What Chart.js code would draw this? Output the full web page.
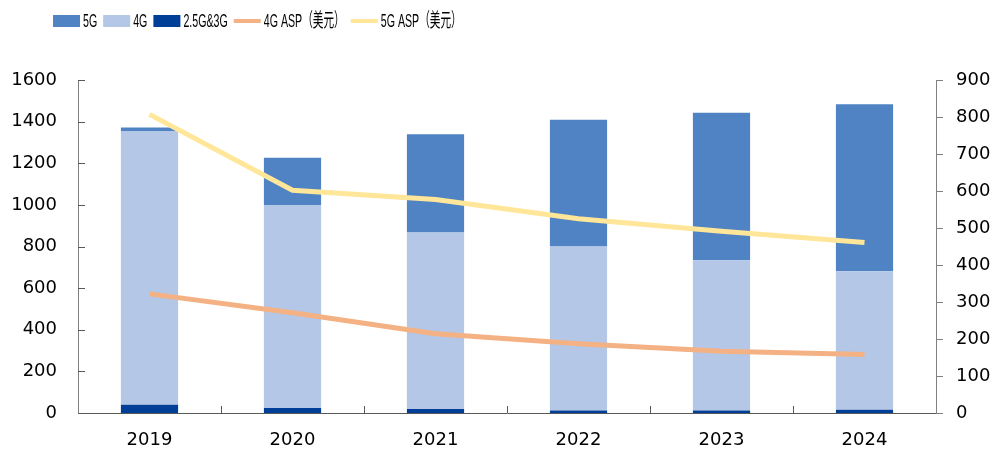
<!DOCTYPE html>
<html lang="zh">
  <head>
    <meta charset="UTF-8" />
    <script src="https://cdn.jsdelivr.net/npm/chart.js"></script>
    <title>5G / 4G</title>
    <style>
      * {
        padding: 0;
        margin: 0;
        box-sizing: border-box;
      }
      body {
        background: #fff;
      }
      .wrap {
        width: 1006px;
        height: 454px;
      }
    </style>
  </head>
  <body>
    <div class="wrap">
      <canvas id="myChart"></canvas>
    </div>
    <script>
      const years = ['2019', '2020', '2021', '2022', '2023', '2024'];
      const g3 = [40, 24, 19, 12, 12, 16];
      const g4 = [1315, 976, 848, 788, 722, 665];
      const g5 = [17, 226, 472, 609, 709, 802];
      const asp4g = [322, 271, 214, 187, 167, 158];
      const asp5g = [807, 602, 577, 525, 491, 461];
      const leftTicks = [0, 200, 400, 600, 800, 1000, 1200, 1400, 1600];
      const rightTicks = [0, 100, 200, 300, 400, 500, 600, 700, 800, 900];

      const fontFamily = "'DejaVu Sans', 'Noto Sans CJK SC', sans-serif";
      const legendOrder = ['5G', '4G', '2.5G&3G', '4G ASP（美元）', '5G ASP（美元）'];

      // tick marks drawn inside the plot (x axis and left axis)
      const innerTicks = {
        id: 'innerTicks',
        afterDraw(chart) {
          const ctx = chart.ctx;
          const x = chart.scales.x;
          const y = chart.scales.y;
          ctx.save();
          ctx.strokeStyle = '#595959';
          ctx.lineWidth = 1;
          ctx.beginPath();
          for (let i = 1; i < years.length; i++) {
            const px = Math.round((x.getPixelForValue(i - 1) + x.getPixelForValue(i)) / 2) + 0.5;
            ctx.moveTo(px, y.bottom);
            ctx.lineTo(px, y.bottom - 7);
          }
          leftTicks.forEach(v => {
            const py = Math.round(y.getPixelForValue(v)) + 0.5;
            ctx.moveTo(x.left, py);
            ctx.lineTo(x.left + 7, py);
          });
          ctx.stroke();
          ctx.restore();
        },
      };

      // legend drawn by hand: narrow text, short gap between key and label
      const topLegend = {
        id: 'topLegend',
        afterDraw(chart) {
          const ctx = chart.ctx;
          const squeeze = 0.56;
          let cx = 53;
          const cy = 21;
          ctx.save();
          ctx.font = "19px 'Liberation Sans', 'Noto Sans CJK SC', sans-serif";
          ctx.textBaseline = 'middle';
          legendOrder.forEach(name => {
            const ds = chart.data.datasets.find(d => d.label === name);
            if (ds.type === 'line') {
              ctx.fillStyle = ds.borderColor;
              ctx.fillRect(cx, cy - 2, 27, 4);
            } else {
              ctx.fillStyle = ds.backgroundColor;
              ctx.fillRect(cx, cy - 6, 27, 12);
            }
            cx += 30;
            ctx.fillStyle = '#000';
            ctx.save();
            ctx.translate(cx, cy);
            ctx.scale(squeeze, 1);
            ctx.fillText(name, 0, 1);
            ctx.restore();
            cx += ctx.measureText(name).width * squeeze + 6;
          });
          ctx.restore();
        },
      };

      const data = {
        labels: years,
        datasets: [
          { type: 'line', label: '4G ASP（美元）', data: asp4g, yAxisID: 'y1', borderColor: '#F4B183', backgroundColor: '#F4B183', borderWidth: 5, pointRadius: 0, order: 0 },
          { type: 'line', label: '5G ASP（美元）', data: asp5g, yAxisID: 'y1', borderColor: '#FFE699', backgroundColor: '#FFE699', borderWidth: 5, pointRadius: 0, order: 0 },
          { type: 'bar', label: '2.5G&3G', data: g3, yAxisID: 'y', backgroundColor: '#003F98', borderWidth: 0, stack: 's', order: 1 },
          { type: 'bar', label: '4G', data: g4, yAxisID: 'y', backgroundColor: '#B4C7E7', borderWidth: 0, stack: 's', order: 1 },
          { type: 'bar', label: '5G', data: g5, yAxisID: 'y', backgroundColor: '#4F83C3', borderWidth: 0, stack: 's', order: 1 },
        ],
      };

      const config = {
        data: data,
        options: {
          responsive: true,
          maintainAspectRatio: false,
          animation: false,
          layout: { padding: { left: 10, right: 15, top: 80, bottom: 0 } },
          datasets: { bar: { barPercentage: 0.4, categoryPercentage: 1 } },
          plugins: {
            tooltip: { enabled: false },
            legend: { display: false },
          },
          scales: {
            x: {
              stacked: true,
              afterFit: axis => { axis.height = 41; },
              grid: { display: false, drawTicks: false },
              border: { display: true, color: '#595959', width: 1 },
              ticks: { color: '#000', font: { family: fontFamily, size: 18 }, padding: 17 },
            },
            y: {
              stacked: true,
              position: 'left',
              min: 0,
              max: 1600,
              afterBuildTicks: axis => { axis.ticks = leftTicks.map(v => ({ value: v })); },
              afterFit: axis => { axis.width = 68; },
              grid: { display: false, drawTicks: false },
              border: { display: true, color: '#808080', width: 1 },
              ticks: { color: '#000', font: { family: fontFamily, size: 18 }, padding: 21, callback: v => String(v) },
            },
            y1: {
              position: 'right',
              min: 0,
              max: 900,
              afterBuildTicks: axis => { axis.ticks = rightTicks.map(v => ({ value: v })); },
              afterFit: axis => { axis.width = 55; },
              grid: { drawOnChartArea: false, color: '#808080', tickLength: 7 },
              border: { display: true, color: '#808080', width: 1 },
              ticks: { color: '#000', font: { family: fontFamily, size: 18 }, padding: 13, callback: v => String(v) },
            },
          },
        },
        plugins: [innerTicks, topLegend],
      };

      const myChart = new Chart(document.getElementById('myChart'), config);
    </script>
  </body>
</html>
